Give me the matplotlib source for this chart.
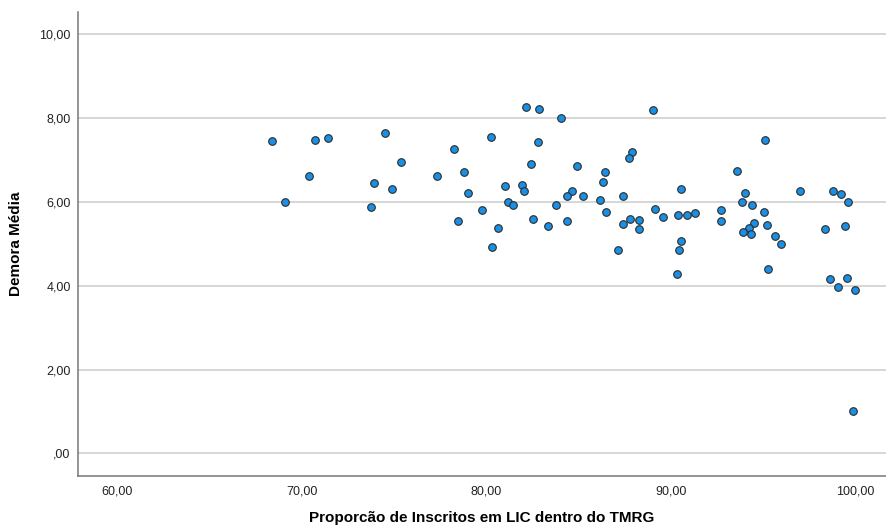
import matplotlib
matplotlib.use("Agg")
import matplotlib.pyplot as plt
from matplotlib.ticker import FuncFormatter

# proporcao de inscritos (x) e demora media (y)
proporcao = [
    68.39, 69.06, 70.38, 70.70, 71.39, 73.76, 73.90, 74.50, 74.88, 75.37, 77.30,
    82.14, 82.85, 84.05, 80.24, 82.79, 78.24, 82.40, 84.91, 78.76, 81.02, 81.94,
    82.02, 79.01, 84.63, 84.36, 85.25, 81.17, 81.45, 83.77, 79.77, 78.47, 82.52,
    84.35, 83.35, 80.64, 80.28,
    89.02, 87.89, 87.72, 86.44, 86.33, 90.56, 87.38, 86.14, 86.49, 89.13, 89.58,
    90.38, 90.85, 91.28, 92.69, 92.69, 87.38, 87.78, 88.27, 88.28, 90.56, 90.45,
    87.14, 90.33,
    95.11, 93.59, 96.99, 98.76, 99.20, 99.61, 94.03, 93.83, 94.41, 95.04, 94.48,
    95.19, 94.24, 93.89, 94.34, 95.65, 95.98, 98.35, 99.41, 95.24, 98.62, 99.56,
    99.04, 99.96, 99.86,
]
demora = [
    7.45, 5.99, 6.63, 7.47, 7.52, 5.88, 6.45, 7.64, 6.30, 6.96, 6.62,
    8.26, 8.22, 8.00, 7.54, 7.42, 7.26, 6.91, 6.87, 6.72, 6.38, 6.40,
    6.25, 6.22, 6.25, 6.14, 6.14, 5.99, 5.92, 5.93, 5.80, 5.55, 5.59,
    5.55, 5.42, 5.39, 4.92,
    8.20, 7.20, 7.06, 6.72, 6.47, 6.31, 6.14, 6.05, 5.76, 5.83, 5.64,
    5.69, 5.69, 5.74, 5.80, 5.55, 5.48, 5.59, 5.58, 5.36, 5.06, 4.85,
    4.86, 4.27,
    7.48, 6.75, 6.25, 6.27, 6.19, 5.99, 6.21, 6.00, 5.93, 5.77, 5.50,
    5.45, 5.38, 5.29, 5.23, 5.18, 5.00, 5.35, 5.42, 4.40, 4.15, 4.19,
    3.96, 3.90, 1.00,
]
x_ticks = [60, 70, 80, 90, 100]
y_ticks = [0, 2, 4, 6, 8, 10]


def formato_spss(v, pos=None):
    # SPSS escreve ",00" sem o zero inicial
    s = f"{v:.2f}".replace(".", ",")
    if s.startswith("0,"):
        s = s[1:]
    return s


plt.rcParams['font.family'] = ['Liberation Sans', 'DejaVu Sans']

fig = plt.figure(figsize=(8.86, 5.27), dpi=100)
ax = fig.add_axes([0.0877, 0.0977, 0.9123, 0.880])

ax.scatter(proporcao, demora, s=30, color='#1a8fe3', edgecolors='#2b2b2b',
           linewidths=0.8, zorder=3)

ax.set_xlim(57.84, 101.65)
ax.set_ylim(-0.53, 10.54)
ax.set_xticks(x_ticks)
ax.set_yticks(y_ticks)
ax.xaxis.set_major_formatter(FuncFormatter(formato_spss))
ax.yaxis.set_major_formatter(FuncFormatter(formato_spss))
ax.tick_params(axis='x', length=0, pad=7, labelsize=9, labelcolor='#222222')
ax.tick_params(axis='y', length=0, pad=5, labelsize=9, labelcolor='#222222')

ax.grid(True, axis='y', color='#cccccc', linewidth=1.1, zorder=0)
ax.set_axisbelow(True)

for lado in ['top', 'right']:
    ax.spines[lado].set_visible(False)
for lado in ['left', 'bottom']:
    ax.spines[lado].set_color('#777777')
    ax.spines[lado].set_linewidth(1.1)

ax.set_xlabel('Proporcão de Inscritos em LIC dentro do TMRG', fontsize=11,
              fontweight='bold', labelpad=10)
ax.set_ylabel('Demora Média', fontsize=11, fontweight='bold', labelpad=12)

fig.savefig('out.png', dpi=100)
